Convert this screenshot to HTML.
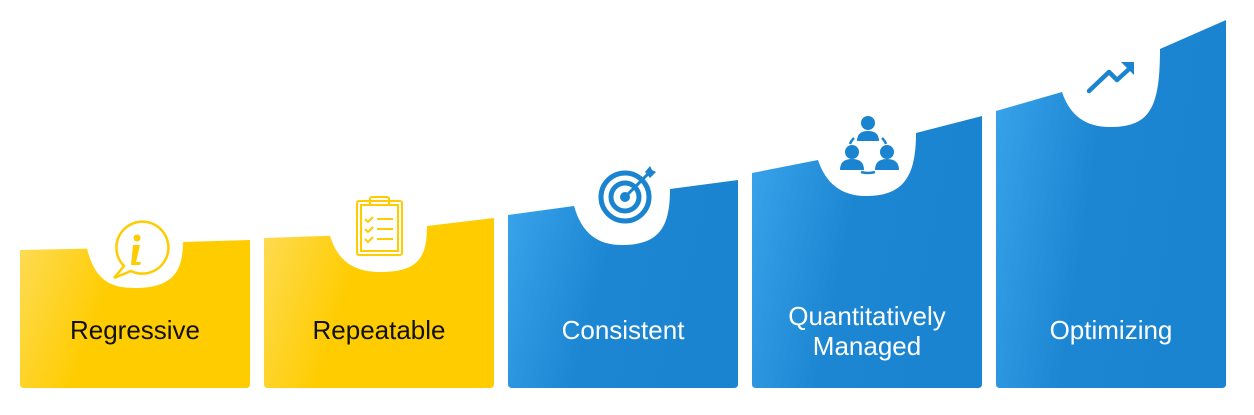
<!DOCTYPE html>
<html><head><style>
html,body{margin:0;padding:0;background:#fff;}
</style></head><body>
<svg width="1254" height="410" viewBox="0 0 1254 410" xmlns="http://www.w3.org/2000/svg" font-family="Liberation Sans, sans-serif">
<defs>
<linearGradient id="gy" x1="0" y1="0" x2="1" y2="0.25"><stop offset="0" stop-color="#FEDC55"/><stop offset="0.45" stop-color="#FFCC00"/><stop offset="1" stop-color="#FFCC00"/></linearGradient>
<linearGradient id="gb" x1="0" y1="0" x2="1" y2="0.25"><stop offset="0" stop-color="#3AA4EC"/><stop offset="0.5" stop-color="#1C86D2"/><stop offset="1" stop-color="#1A84D0"/></linearGradient>
</defs>
<path d="M20,250 L87,248.6 C95,280 110,288 135,288 C172,288 183,272 183,242 L250,240 L250,384 Q250,388 246,388 L24,388 Q20,388 20,384 Z" fill="url(#gy)"/>
<path d="M264,238 L330,235.8 C338,262 355,272 380,272 C418,272 427,258 427,226 L494,218 L494,384 Q494,388 490,388 L268,388 Q264,388 264,384 Z" fill="url(#gy)"/>
<path d="M508,215 L574,206 C582,234 598,245 622,245 C660,245 670,226 670,189 L738,180 L738,384 Q738,388 734,388 L512,388 Q508,388 508,384 Z" fill="url(#gb)"/>
<path d="M752,173 L818,160 C826,184 842,196 866,196 C904,196 916,176 916,133 L982,116 L982,384 Q982,388 978,388 L756,388 Q752,388 752,384 Z" fill="url(#gb)"/>
<path d="M996,111 L1062,92 C1070,116 1086,127 1110,127 C1150,127 1160,108 1160,49 L1226,20 L1226,384 Q1226,388 1222,388 L1000,388 Q996,388 996,384 Z" fill="url(#gb)"/>

<g transform="translate(0,12)">
<path d="M124,254 A26,26 0 1 1 131,259 L114,266 Z" fill="none" stroke="#FFCC00" stroke-width="2.5"/>
<circle cx="137" cy="226" r="3.5" fill="#FFCC00"/>
<path d="M133,233 L140,233 L136,250 L141,250 L140,253 L131,253 Z" fill="#FFCC00"/>
</g>
<g stroke="#FFCC00" fill="none" stroke-width="2">
<rect x="357" y="201" width="45" height="54" rx="2"/>
<rect x="361" y="205" width="37" height="46"/>
<rect x="370" y="197" width="19" height="8" rx="2"/>
<path d="M365,219 l3,3 l5,-5 M365,229 l3,3 l5,-5 M365,239 l3,3 l5,-5"/>
<path d="M377,219 h16 M377,229 h16 M377,239 h16"/>
</g>
<g stroke="#1A84D0" fill="none">
<circle cx="625" cy="197" r="24" stroke-width="5"/>
<circle cx="625" cy="197" r="14" stroke-width="5"/>
</g>
<circle cx="625" cy="197" r="5" fill="#1A84D0"/>
<path d="M625,197 L650,172" stroke="#1A84D0" stroke-width="3"/>
<path d="M645,172 L650,166 L652,170 L656,172 L650,178 Z" fill="#1A84D0"/>
<g fill="#1A84D0">
<circle cx="868" cy="123" r="7"/>
<path d="M857,141 Q857,131 868,131 Q879,131 879,141 Z"/>
<circle cx="852" cy="152" r="7"/>
<path d="M840,170 Q840,159 852,159 Q864,159 864,170 Z"/>
<circle cx="887" cy="152" r="7"/>
<path d="M875,170 Q875,159 887,159 Q899,159 899,170 Z"/>
</g>
<path d="M854,138 Q851,141 850,144 M882,138 Q885,141 886,144 M861,172 Q868,174 875,172" stroke="#1A84D0" stroke-width="2.5" fill="none"/>
<path d="M1089,91 L1109,72 L1117,80 L1128,70" stroke="#1A84D0" stroke-width="4.5" fill="none" stroke-linecap="round" stroke-linejoin="round"/>
<path d="M1121,62 L1134,62 L1134,75 Z" fill="#1A84D0"/>

<g font-size="26" text-anchor="middle">
<text x="135" y="339" fill="#111">Regressive</text>
<text x="379" y="339" fill="#111">Repeatable</text>
<text x="623" y="339" fill="#fff">Consistent</text>
<text x="867" y="325" fill="#fff">Quantitatively</text>
<text x="867" y="355" fill="#fff">Managed</text>
<text x="1111" y="339" fill="#fff">Optimizing</text>
</g>
</svg>
</body></html>
